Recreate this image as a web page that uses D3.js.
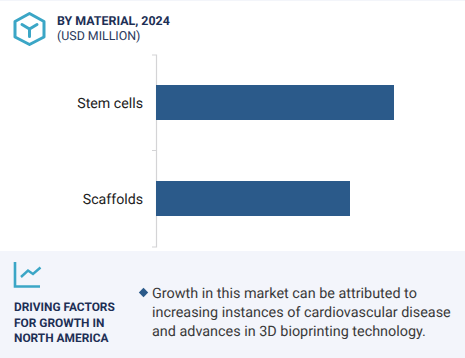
<!DOCTYPE html>
<html>
<head>
<meta charset="utf-8">
<script src="https://cdn.jsdelivr.net/npm/d3@7"></script>
<style>
  html, body { margin: 0; padding: 0; background: #fff; }
  text { font-family: Roboto, sans-serif; text-rendering: geometricPrecision; }
</style>
</head>
<body>
<div id="chart"></div>
<script>
const categories = ["Stem cells", "Scaffolds"];
const values = [119, 97]; // no axis in the picture
const titleLines = ["BY MATERIAL, 2024", "(USD MILLION)"];
const factorLines = ["DRIVING FACTORS", "FOR GROWTH IN", "NORTH AMERICA"];
const bodyLines = [
    "Growth in this market can be attributed to",
    "increasing instances of cardiovascular disease",
    "and advances in 3D bioprinting technology."
];

const width = 465, height = 358;
const svg = d3.select("#chart").append("svg")
    .attr("width", width)
    .attr("height", height)
    .style("display", "block");

// Panel behind the bottom text
svg.append("rect").attr("width", width).attr("height", 1).attr("fill", "#f3f5fa");
svg.append("rect")
    .attr("y", 251)
    .attr("width", width)
    .attr("height", height - 251)
    .attr("fill", "#f3f5fb");

// Hexagon icon
const icon = svg.append("g").attr("fill", "none").attr("stroke", "#3ba6c6");
icon.append("path")
    .attr("d", "M29.5 13.5L44 21.5V37L29.5 44.5L15 37V21.5Z")
    .attr("stroke-width", 3)
    .attr("stroke-linejoin", "round");
icon.append("path")
    .attr("d", "M22 24.5L29.5 29L37 24.5M29.5 29V36.5")
    .attr("stroke-width", 3)
    .attr("stroke-linecap", "round");

// Title
const title = svg.append("g");
title.append("text").attr("x", 57).attr("y", 25)
    .attr("font-size", 12.4).attr("font-weight", 700).attr("fill", "#1d2f55")
    .text(titleLines[0]);
title.append("text").attr("x", 57).attr("y", 39.5)
    .attr("font-size", 12.4).attr("fill", "#2b3a5c")
    .text(titleLines[1]);

// Scales
const x = d3.scaleLinear().domain([0, 130]).range([156, 416]);
const y = d3.scaleBand().domain(categories).range([54.5, 246.5]);
const barHeight = 35;

// Y axis
svg.append("g")
    .attr("transform", "translate(156,0)")
    .call(d3.axisLeft(y).tickValues([]).tickSize(4))
    .call(g => g.select(".domain").attr("stroke", "#d4d4d6").attr("stroke-width", 1.2));

svg.append("line")
    .attr("x1", 152).attr("x2", 156)
    .attr("y1", y("Scaffolds")).attr("y2", y("Scaffolds"))
    .attr("stroke", "#d4d4d6");

// Bars
svg.selectAll(".bar")
    .data(categories)
    .enter()
    .append("rect")
    .attr("class", "bar")
    .attr("x", x(0))
    .attr("y", d => y(d) + (y.bandwidth() - barHeight) / 2)
    .attr("width", (d, i) => x(values[i]) - x(0))
    .attr("height", barHeight)
    .attr("fill", "#2b5a8a");

// Category labels
svg.selectAll(".cat")
    .data(categories)
    .enter()
    .append("text")
    .attr("class", "cat")
    .attr("x", 143)
    .attr("y", d => y(d) + y.bandwidth() / 2 + 5)
    .attr("text-anchor", "end")
    .attr("font-size", 14.2)
    .attr("fill", "#222")
    .text(d => d);

// Line chart icon
const trend = svg.append("g").attr("fill", "none").attr("stroke", "#3ba6c6");
trend.append("path")
    .attr("d", "M15 262V286.5H40")
    .attr("stroke-width", 2.6);
trend.append("path")
    .attr("d", "M21 277L28 270.5L33 274L40.5 267.5")
    .attr("stroke-width", 2.4);

// Left caption
svg.selectAll(".factor")
    .data(factorLines)
    .enter()
    .append("text")
    .attr("class", "factor")
    .attr("x", 14)
    .attr("y", (d, i) => 311 + i * 15.5)
    .attr("font-size", 11.9)
    .attr("font-weight", 700)
    .attr("fill", "#1d2f55")
    .text(d => d);

// Diamond bullet
svg.append("path")
    .attr("d", d3.symbol(d3.symbolSquare, 44))
    .attr("transform", "translate(143.5,292.5) rotate(45)")
    .attr("fill", "#2b5a8a");

// Body text
svg.selectAll(".body")
    .data(bodyLines)
    .enter()
    .append("text")
    .attr("class", "body")
    .attr("x", 152)
    .attr("y", (d, i) => 298 + i * 19)
    .attr("font-size", 14.4)
    .attr("fill", "#3a3a3a")
    .text(d => d);
</script>
</body>
</html>
